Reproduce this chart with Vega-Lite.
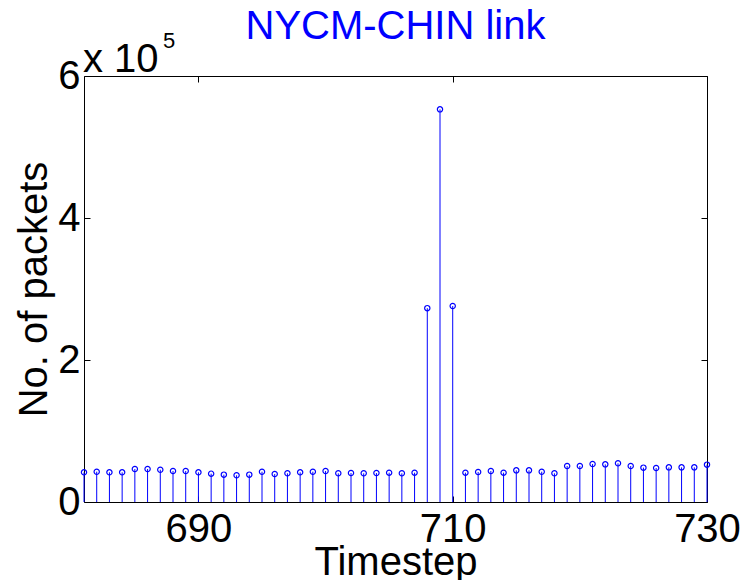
{
  "$schema": "https://vega.github.io/schema/vega-lite/v6.json",
  "width": 623,
  "height": 426,
  "autosize": "none",
  "padding": {"left": 84, "top": 76, "right": 34, "bottom": 78},
  "background": "white",
  "config": {
    "view": {"stroke": null},
    "font": "Liberation Sans",
    "axis": {
      "domainColor": "black",
      "domainWidth": 1,
      "tickColor": "black",
      "tickWidth": 1,
      "tickSize": -6,
      "grid": false,
      "labelFont": "Liberation Sans",
      "labelFontSize": 40,
      "labelColor": "black",
      "titleFont": "Liberation Sans",
      "titleFontSize": 40,
      "titleFontWeight": "normal",
      "titleColor": "black"
    }
  },
  "title": {
    "text": "NYCM-CHIN link",
    "color": "#0000ff",
    "font": "Liberation Sans",
    "fontSize": 40,
    "fontWeight": "normal",
    "anchor": "middle",
    "frame": "group",
    "baseline": "alphabetic",
    "offset": -49
  },
  "data": {
    "values": [
      {"t": 681, "packets": 41800},
      {"t": 682, "packets": 42700},
      {"t": 683, "packets": 41800},
      {"t": 684, "packets": 41800},
      {"t": 685, "packets": 46500},
      {"t": 686, "packets": 46500},
      {"t": 687, "packets": 45500},
      {"t": 688, "packets": 43700},
      {"t": 689, "packets": 43700},
      {"t": 690, "packets": 41800},
      {"t": 691, "packets": 39900},
      {"t": 692, "packets": 38500},
      {"t": 693, "packets": 37600},
      {"t": 694, "packets": 38500},
      {"t": 695, "packets": 42700},
      {"t": 696, "packets": 39400},
      {"t": 697, "packets": 40400},
      {"t": 698, "packets": 41800},
      {"t": 699, "packets": 42700},
      {"t": 700, "packets": 43700},
      {"t": 701, "packets": 40400},
      {"t": 702, "packets": 40800},
      {"t": 703, "packets": 40400},
      {"t": 704, "packets": 40800},
      {"t": 705, "packets": 41300},
      {"t": 706, "packets": 40400},
      {"t": 707, "packets": 41300},
      {"t": 708, "packets": 273000},
      {"t": 709, "packets": 553000},
      {"t": 710, "packets": 276000},
      {"t": 711, "packets": 41300},
      {"t": 712, "packets": 42300},
      {"t": 713, "packets": 43700},
      {"t": 714, "packets": 41300},
      {"t": 715, "packets": 44600},
      {"t": 716, "packets": 44600},
      {"t": 717, "packets": 42700},
      {"t": 718, "packets": 40400},
      {"t": 719, "packets": 50700},
      {"t": 720, "packets": 50700},
      {"t": 721, "packets": 53500},
      {"t": 722, "packets": 53000},
      {"t": 723, "packets": 54500},
      {"t": 724, "packets": 50700},
      {"t": 725, "packets": 48400},
      {"t": 726, "packets": 47900},
      {"t": 727, "packets": 48800},
      {"t": 728, "packets": 48800},
      {"t": 729, "packets": 48800},
      {"t": 730, "packets": 52600}
    ]
  },
  "resolve": {"axis": {"x": "independent", "y": "independent"}},
  "layer": [
    {
      "mark": {"type": "rule", "color": "#0000ff", "strokeWidth": 1},
      "encoding": {
        "x": {
          "field": "t", "type": "quantitative",
          "scale": {"domain": [681, 730], "nice": false, "zero": false},
          "axis": {
            "orient": "bottom",
            "values": [690, 710, 730],
            "title": "Timestep",
            "titleX": 311.5,
            "titleY": 72,
            "titleBaseline": "alphabetic",
            "titleAlign": "center",
            "labelBaseline": "alphabetic",
            "labelPadding": 45,
            "labelFlush": false,
            "labelOverlap": false
          }
        },
        "y": {
          "field": "packets", "type": "quantitative",
          "scale": {"domain": [0, 600000], "nice": false},
          "axis": {
            "orient": "left",
            "values": [0, 200000, 400000, 600000],
            "labelExpr": "datum.value / 100000",
            "labelBaseline": "middle",
            "labelPadding": 10,
            "labelFlush": false,
            "labelOverlap": false,
            "title": "No. of packets",
            "titleX": -38,
            "titleY": 213,
            "titleAngle": -90,
            "titleBaseline": "alphabetic",
            "titleAlign": "center"
          }
        },
        "y2": {"datum": 0}
      }
    },
    {
      "mark": {"type": "point", "shape": "circle", "filled": false, "color": "#0000ff", "size": 28, "strokeWidth": 1.2, "opacity": 1},
      "encoding": {
        "x": {
          "field": "t", "type": "quantitative",
          "axis": {"orient": "top", "values": [690, 710, 730], "labels": false, "title": null}
        },
        "y": {
          "field": "packets", "type": "quantitative",
          "axis": {"orient": "right", "values": [0, 200000, 400000, 600000], "labels": false, "title": null}
        }
      }
    },
    {
      "data": {"values": [{"label": "x 10"}]},
      "mark": {"type": "text", "align": "left", "baseline": "alphabetic", "fontSize": 40, "font": "Liberation Sans", "color": "black", "dx": -1, "dy": -4},
      "encoding": {
        "x": {"datum": 681, "type": "quantitative", "axis": null},
        "y": {"datum": 600000, "type": "quantitative", "axis": null},
        "text": {"field": "label"}
      }
    },
    {
      "data": {"values": [{"label": "5"}]},
      "mark": {"type": "text", "align": "left", "baseline": "alphabetic", "fontSize": 22, "font": "Liberation Sans", "color": "black", "dx": 79, "dy": -28},
      "encoding": {
        "x": {"datum": 681, "type": "quantitative", "axis": null},
        "y": {"datum": 600000, "type": "quantitative", "axis": null},
        "text": {"field": "label"}
      }
    }
  ]
}
